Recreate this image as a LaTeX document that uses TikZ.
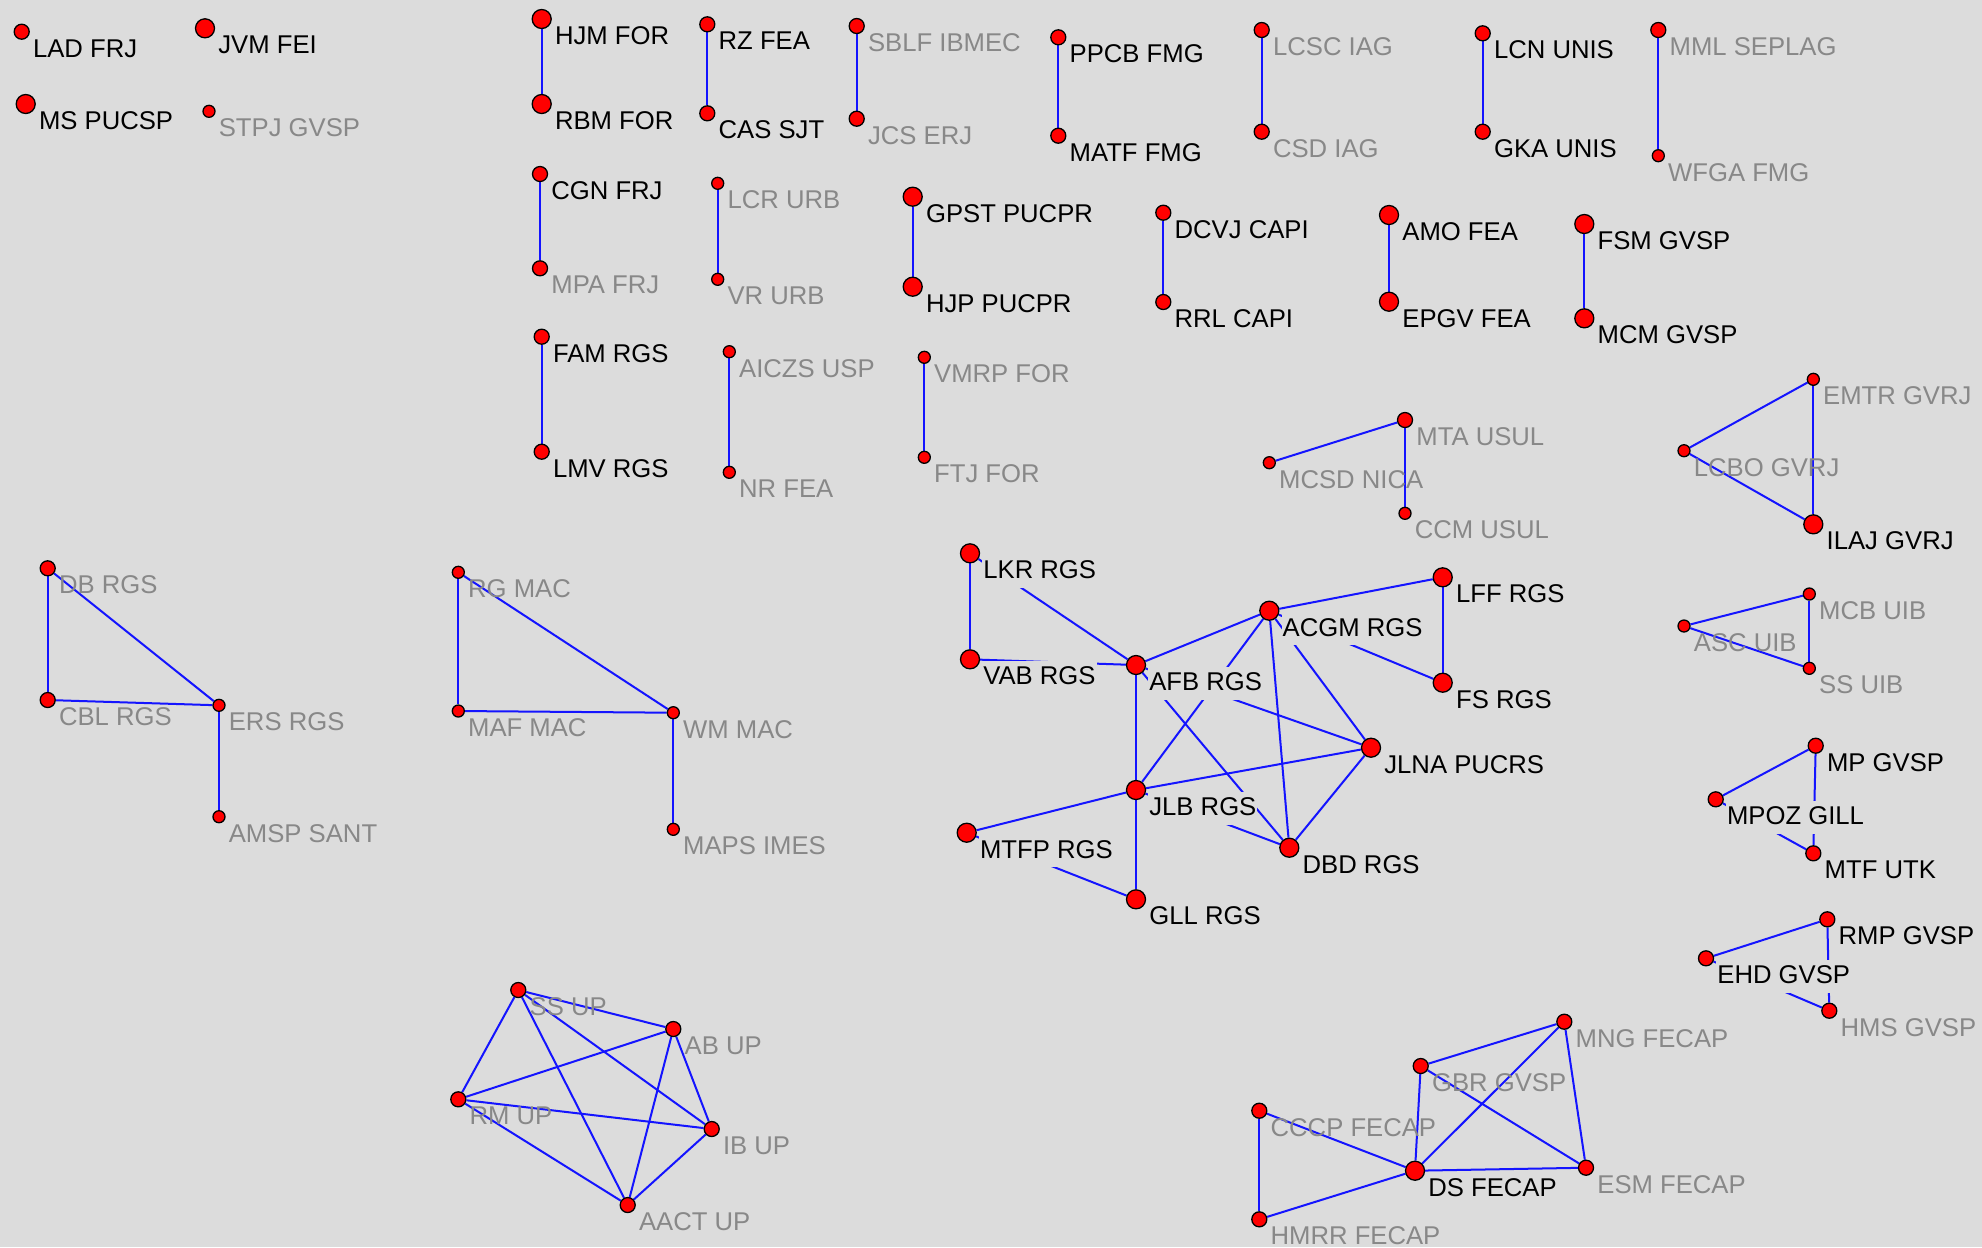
\documentclass[tikz,border=0pt]{standalone}
\usepackage{fontspec}
\setmainfont{Liberation Sans}
\usepackage{xcolor}
\definecolor{Bg}  {HTML}{DCDCDC}
\definecolor{Pale}{HTML}{888888}
\definecolor{Link}{HTML}{1414FF}
\definecolor{Dot} {HTML}{FF0000}
\newcommand{\namefont}{\fontsize{7.3pt}{8.8pt}\selectfont}
\pgfdeclarelayer{paper}
\pgfdeclarelayer{links}
\pgfsetlayers{paper,links,main}
\tikzset{
  dot/.style={circle, draw=black, line width=0.013cm, fill=Dot, inner sep=0pt, minimum size=#1},
  big/.style={dot=0.19cm},
  mid/.style={dot=0.15cm},
  sml/.style={dot=0.12cm},
  tag/.style={anchor=base west, font=\namefont, inner sep=0.01cm,
              text height=0.23cm, text depth=0.08cm, xshift=0.015cm, yshift=-0.255cm},
  dk/.style={label={[tag, text=black, fill=Bg]east:#1}},
  lt/.style={label={[tag, text=Pale]east:#1}},
  link/.style={draw=Link, line width=0.02cm}
}

\begin{document}
\begin{tikzpicture}[x=0.01cm, y=-0.01cm]
  \useasboundingbox (0,0) rectangle (1982,1247);
  \begin{pgfonlayer}{paper}
    \fill[Bg] (0,0) rectangle (1982,1247);
  \end{pgfonlayer}

  \node[mid,dk=LAD FRJ]   (lad)  at (21.7,31.7) {};
  \node[big,dk=JVM FEI]   (jvm)  at (205,28.3) {};
  \node[big,dk=MS PUCSP]  (ms)   at (25.7,104) {};
  \node[sml,lt=STPJ GVSP] (stpj) at (209,111.3) {};

  \node[big,dk=HJM FOR]    (hjm)  at (541.7,19) {};
  \node[big,dk=RBM FOR]    (rbm)  at (541.7,104) {};
  \node[mid,dk=RZ FEA]     (rz)   at (707.3,24.3) {};
  \node[mid,dk=CAS SJT]    (cas)  at (707.3,113.3) {};
  \node[mid,lt=SBLF IBMEC] (sblf) at (856.7,26) {};
  \node[mid,lt=JCS ERJ]    (jcs)  at (856.7,118.7) {};
  \node[mid,dk=PPCB FMG]   (ppcb) at (1058.3,37.3) {};
  \node[mid,dk=MATF FMG]   (matf) at (1058.3,135.7) {};
  \node[mid,lt=LCSC IAG]   (lcsc) at (1261.7,30) {};
  \node[mid,lt=CSD IAG]    (csd)  at (1261.7,131.7) {};
  \node[mid,dk=LCN UNIS]   (lcn)  at (1482.7,33.3) {};
  \node[mid,dk=GKA UNIS]   (gka)  at (1482.7,131.7) {};
  \node[mid,lt=MML SEPLAG] (mml)  at (1658.3,30) {};
  \node[sml,lt=WFGA FMG]   (wfga) at (1658.3,155.7) {};

  \node[mid,dk=CGN FRJ]    (cgn)  at (540,174) {};
  \node[mid,lt=MPA FRJ]    (mpa)  at (540,268.3) {};
  \node[sml,lt=LCR URB]    (lcr)  at (717.7,183.3) {};
  \node[sml,lt=VR URB]     (vr)   at (717.7,279.3) {};
  \node[big,dk=GPST PUCPR] (gpst) at (912.7,196.7) {};
  \node[big,dk=HJP PUCPR]  (hjp)  at (912.7,286.7) {};
  \node[mid,dk=DCVJ CAPI]  (dcvj) at (1163.3,212.7) {};
  \node[mid,dk=RRL CAPI]   (rrl)  at (1163.3,302) {};
  \node[big,dk=AMO FEA]    (amo)  at (1389,215) {};
  \node[big,dk=EPGV FEA]   (epgv) at (1389,301.7) {};
  \node[big,dk=FSM GVSP]   (fsm)  at (1584.3,224) {};
  \node[big,dk=MCM GVSP]   (mcm)  at (1584.3,318.3) {};

  \node[mid,dk=FAM RGS]    (fam)   at (541.7,336.7) {};
  \node[mid,dk=LMV RGS]    (lmv)   at (541.7,451.7) {};
  \node[sml,lt=AICZS USP]  (aiczs) at (729.3,351.7) {};
  \node[sml,lt=NR FEA]     (nr)    at (729.3,472.3) {};
  \node[sml,lt=VMRP FOR]   (vmrp)  at (924.3,357.3) {};
  \node[sml,lt=FTJ FOR]    (ftj)   at (924.3,457.3) {};

  \node[mid,lt=MTA USUL]   (mta)  at (1405,420) {};
  \node[sml,lt=MCSD NICA]  (mcsd) at (1269.3,462.7) {};
  \node[sml,lt=CCM USUL]   (ccm)  at (1405,513.3) {};
  \node[sml,lt=EMTR GVRJ]  (emtr) at (1813.3,379.3) {};
  \node[sml,lt=LCBO GVRJ]  (lcbo) at (1684,450.7) {};
  \node[big,dk=ILAJ GVRJ]  (ilaj) at (1813.3,524.3) {};
  \node[sml,lt=MCB UIB]    (mcb)  at (1809.3,594) {};
  \node[sml,lt=ASC UIB]    (asc)  at (1684,626) {};
  \node[sml,lt=SS UIB]     (ssu)  at (1809.3,668.3) {};
  \node[mid,dk=MP GVSP]    (mp)   at (1815.7,745.7) {};
  \node[mid,dk=MPOZ GILL]  (mpoz) at (1715.7,799.3) {};
  \node[mid,dk=MTF UTK]    (mtf)  at (1813.3,853.3) {};
  \node[mid,dk=RMP GVSP]   (rmp)  at (1827.3,919.3) {};
  \node[mid,dk=EHD GVSP]   (ehd)  at (1706,958.3) {};
  \node[mid,lt=HMS GVSP]   (hms)  at (1829.3,1010.7) {};

  \node[mid,lt=DB RGS]     (db)   at (47.7,568.3) {};
  \node[mid,lt=CBL RGS]    (cbl)  at (47.7,700) {};
  \node[sml,lt=ERS RGS]    (ers)  at (219,705.3) {};
  \node[sml,lt=AMSP SANT]  (amsp) at (219,816.7) {};
  \node[sml,lt=RG MAC]     (rg)   at (458.3,572.3) {};
  \node[sml,lt=MAF MAC]    (maf)  at (458.3,711) {};
  \node[sml,lt=WM MAC]     (wm)   at (673.3,712.7) {};
  \node[sml,lt=MAPS IMES]  (maps) at (673.3,829.3) {};

  \node[mid,lt=SS UP]      (ssup) at (518.3,990) {};
  \node[mid,lt=AB UP]      (ab)   at (673.3,1029) {};
  \node[mid,lt=IB UP]      (ib)   at (711.7,1129) {};
  \node[mid,lt=AACT UP]    (aact) at (627.7,1205) {};
  \node[mid,lt=RM UP]      (rm)   at (458.3,1099.3) {};

  \node[big,dk=LKR RGS]    (lkr)  at (970,553.3) {};
  \node[big,dk=VAB RGS]    (vab)  at (970,659.3) {};
  \node[big,dk=AFB RGS]    (afb)  at (1136,665) {};
  \node[big,dk=ACGM RGS]   (acgm) at (1269.3,610.7) {};
  \node[big,dk=LFF RGS]    (lff)  at (1442.7,577.3) {};
  \node[big,dk=FS RGS]     (fs)   at (1442.7,682.7) {};
  \node[big,dk=JLNA PUCRS] (jlna) at (1371,747.7) {};
  \node[big,dk=JLB RGS]    (jlb)  at (1136,790) {};
  \node[big,dk=DBD RGS]    (dbd)  at (1289.3,847.7) {};
  \node[big,dk=GLL RGS]    (gll)  at (1136,899.3) {};
  \node[big,dk=MTFP RGS]   (mtfp) at (966.7,832.7) {};

  \node[mid,lt=CCCP FECAP] (cccp) at (1259.3,1110.7) {};
  \node[mid,lt=HMRR FECAP] (hmrr) at (1259.3,1219.3) {};
  \node[mid,lt=GBR GVSP]   (gbr)  at (1420.7,1066) {};
  \node[big,dk=DS FECAP]   (ds)   at (1415,1170.7) {};
  \node[mid,lt=MNG FECAP]  (mng)  at (1564.3,1021.7) {};
  \node[mid,lt=ESM FECAP]  (esm)  at (1586,1167.7) {};

  \begin{pgfonlayer}{links}
    \draw[link](hjm)--(rbm); \draw[link](rz)--(cas); \draw[link](sblf)--(jcs);
    \draw[link](ppcb)--(matf); \draw[link](lcsc)--(csd); \draw[link](lcn)--(gka);
    \draw[link](mml)--(wfga); \draw[link](cgn)--(mpa); \draw[link](lcr)--(vr);
    \draw[link](gpst)--(hjp); \draw[link](dcvj)--(rrl); \draw[link](amo)--(epgv);
    \draw[link](fsm)--(mcm); \draw[link](fam)--(lmv); \draw[link](aiczs)--(nr);
    \draw[link](vmrp)--(ftj);
    \draw[link](mta)--(mcsd); \draw[link](mta)--(ccm);
    \draw[link](emtr)--(lcbo); \draw[link](emtr)--(ilaj); \draw[link](lcbo)--(ilaj);
    \draw[link](mcb)--(asc); \draw[link](mcb)--(ssu); \draw[link](asc)--(ssu);
    \draw[link](mp)--(mpoz); \draw[link](mp)--(mtf); \draw[link](mpoz)--(mtf);
    \draw[link](rmp)--(ehd); \draw[link](rmp)--(hms); \draw[link](ehd)--(hms);
    \draw[link](db)--(cbl); \draw[link](db)--(ers); \draw[link](cbl)--(ers); \draw[link](ers)--(amsp);
    \draw[link](rg)--(maf); \draw[link](rg)--(wm); \draw[link](maf)--(wm); \draw[link](wm)--(maps);
    \draw[link](ssup)--(ab); \draw[link](ssup)--(ib); \draw[link](ssup)--(aact); \draw[link](ssup)--(rm);
    \draw[link](ab)--(ib); \draw[link](ab)--(aact); \draw[link](ab)--(rm);
    \draw[link](ib)--(aact); \draw[link](ib)--(rm); \draw[link](aact)--(rm);
    \draw[link](lkr)--(vab); \draw[link](lkr)--(afb); \draw[link](vab)--(afb);
    \draw[link](afb)--(acgm); \draw[link](afb)--(jlb); \draw[link](afb)--(jlna); \draw[link](afb)--(dbd);
    \draw[link](acgm)--(lff); \draw[link](acgm)--(fs); \draw[link](lff)--(fs);
    \draw[link](acgm)--(jlb); \draw[link](acgm)--(dbd); \draw[link](acgm)--(jlna);
    \draw[link](jlna)--(jlb); \draw[link](jlna)--(dbd); \draw[link](jlb)--(dbd);
    \draw[link](jlb)--(mtfp); \draw[link](jlb)--(gll); \draw[link](mtfp)--(gll);
    \draw[link](cccp)--(hmrr); \draw[link](cccp)--(ds); \draw[link](hmrr)--(ds);
    \draw[link](gbr)--(mng); \draw[link](gbr)--(ds); \draw[link](gbr)--(esm);
    \draw[link](mng)--(ds); \draw[link](mng)--(esm); \draw[link](ds)--(esm);
  \end{pgfonlayer}
\end{tikzpicture}
\end{document}
